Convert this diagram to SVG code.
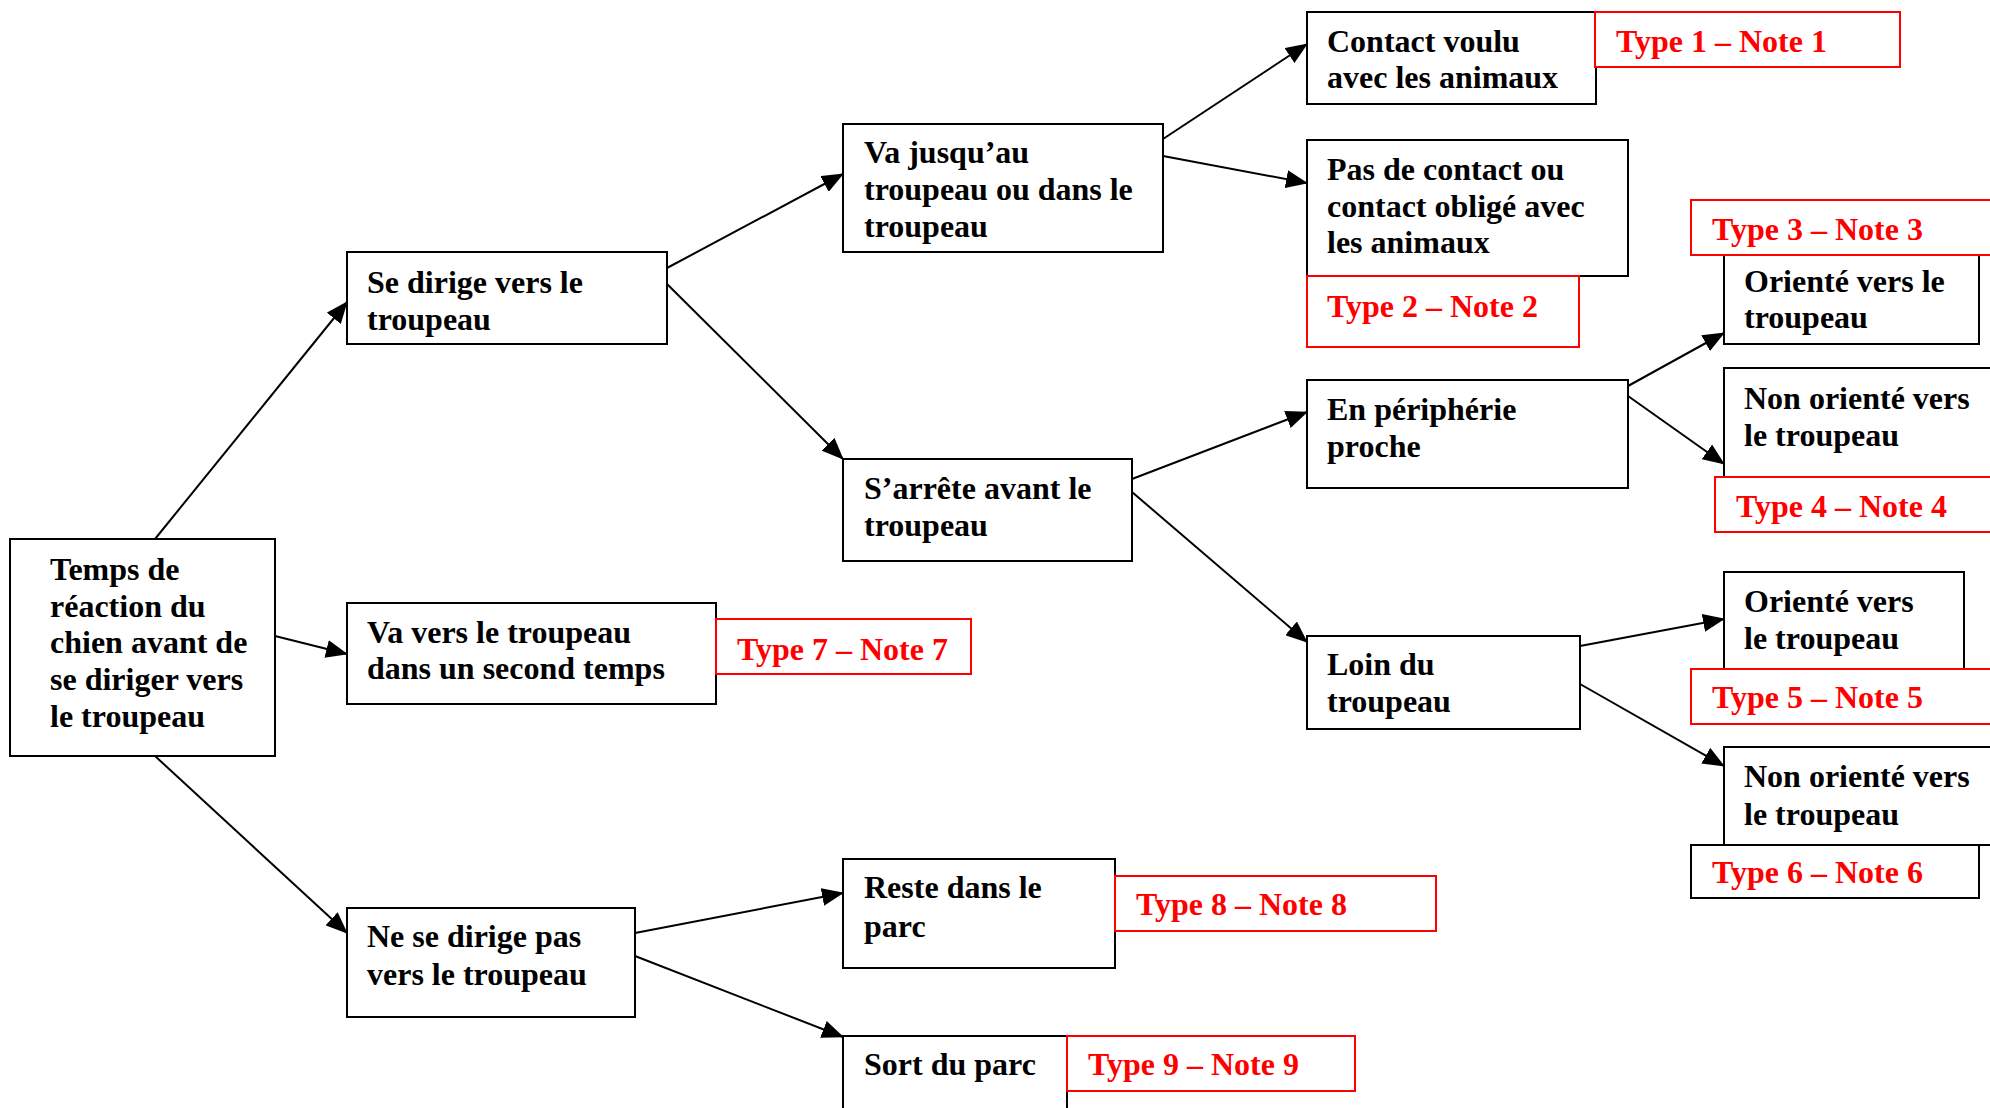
<svg xmlns="http://www.w3.org/2000/svg" width="1990" height="1108" viewBox="0 0 1990 1108">
<defs>
<style>
.box{fill:#fff;stroke:#000;stroke-width:2}
.tag{fill:#fff;stroke:#ff0000;stroke-width:2}
.tagb{fill:#fff;stroke:#000;stroke-width:2}
.t{font-family:"Liberation Serif","Times New Roman",serif;font-weight:bold;font-size:32px;fill:#000}
.r{font-family:"Liberation Serif","Times New Roman",serif;font-weight:bold;font-size:32px;fill:#ff0000}
.c{stroke:#000;stroke-width:2;fill:none;marker-end:url(#arr)}
</style>
<marker id="arr" markerWidth="22" markerHeight="18" refX="21" refY="9" orient="auto" markerUnits="userSpaceOnUse">
<path d="M0,0 L22,9 L0,18 z" fill="#000"/>
</marker>
</defs>
<rect width="1990" height="1108" fill="#fff"/>
<g id="connectors">
<line class="c" x1="155" y1="539" x2="347" y2="302"/>
<line class="c" x1="275" y1="636" x2="347" y2="654"/>
<line class="c" x1="155" y1="756" x2="347" y2="933"/>
<line class="c" x1="667" y1="268" x2="843" y2="174"/>
<line class="c" x1="667" y1="284" x2="843" y2="459"/>
<line class="c" x1="1163" y1="139" x2="1307" y2="44"/>
<line class="c" x1="1163" y1="156" x2="1307" y2="183"/>
<line class="c" x1="1132" y1="479" x2="1307" y2="412"/>
<line class="c" x1="1132" y1="492" x2="1307" y2="642"/>
<line class="c" x1="1628" y1="386" x2="1724" y2="333"/>
<line class="c" x1="1628" y1="396" x2="1724" y2="464"/>
<line class="c" x1="1580" y1="646" x2="1724" y2="619"/>
<line class="c" x1="1580" y1="684" x2="1724" y2="766"/>
<line class="c" x1="635" y1="933" x2="843" y2="893"/>
<line class="c" x1="635" y1="956" x2="843" y2="1037"/>
</g>
<g id="n0"><rect class="box" x="10" y="539" width="265" height="217"/>
<text class="t" x="50"><tspan x="50" y="580">Temps de</tspan><tspan x="50" y="617">réaction du</tspan><tspan x="50" y="653">chien avant de</tspan><tspan x="50" y="690">se diriger vers</tspan><tspan x="50" y="727">le troupeau</tspan></text></g>
<g id="n1"><rect class="box" x="347" y="252" width="320" height="92"/>
<text class="t"><tspan x="367" y="293">Se dirige vers le</tspan><tspan x="367" y="330">troupeau</tspan></text></g>
<g id="n2"><rect class="box" x="347" y="603" width="369" height="101"/>
<text class="t"><tspan x="367" y="643">Va vers le troupeau</tspan><tspan x="367" y="679">dans un second temps</tspan></text></g>
<g id="n3"><rect class="box" x="347" y="908" width="288" height="109"/>
<text class="t"><tspan x="367" y="947">Ne se dirige pas</tspan><tspan x="367" y="985">vers le troupeau</tspan></text></g>
<g id="n4"><rect class="box" x="843" y="124" width="320" height="128"/>
<text class="t"><tspan x="864" y="163">Va jusqu’au</tspan><tspan x="864" y="200">troupeau ou dans le</tspan><tspan x="864" y="237">troupeau</tspan></text></g>
<g id="n5"><rect class="box" x="843" y="459" width="289" height="102"/>
<text class="t"><tspan x="864" y="499">S’arrête avant le</tspan><tspan x="864" y="536">troupeau</tspan></text></g>
<g id="n6"><rect class="box" x="843" y="859" width="272" height="109"/>
<text class="t"><tspan x="864" y="898">Reste dans le</tspan><tspan x="864" y="937">parc</tspan></text></g>
<g id="n7"><rect class="box" x="843" y="1036" width="224" height="90"/>
<text class="t" x="864" y="1075">Sort du parc</text></g>
<g id="n8"><rect class="box" x="1307" y="12" width="289" height="92"/>
<text class="t"><tspan x="1327" y="52">Contact voulu</tspan><tspan x="1327" y="88">avec les animaux</tspan></text></g>
<g id="n9"><rect class="box" x="1307" y="140" width="321" height="136"/>
<text class="t"><tspan x="1327" y="180">Pas de contact ou</tspan><tspan x="1327" y="217">contact obligé avec</tspan><tspan x="1327" y="253">les animaux</tspan></text></g>
<g id="n10"><rect class="box" x="1307" y="380" width="321" height="108"/>
<text class="t"><tspan x="1327" y="420">En périphérie</tspan><tspan x="1327" y="457">proche</tspan></text></g>
<g id="n11"><rect class="box" x="1307" y="636" width="273" height="93"/>
<text class="t"><tspan x="1327" y="675">Loin du</tspan><tspan x="1327" y="712">troupeau</tspan></text></g>
<g id="n12"><rect class="box" x="1724" y="255" width="255" height="89"/>
<text class="t"><tspan x="1744" y="292">Orienté vers le</tspan><tspan x="1744" y="328">troupeau</tspan></text></g>
<g id="n13"><rect class="box" x="1724" y="368" width="290" height="109"/>
<text class="t"><tspan x="1744" y="409">Non orienté vers</tspan><tspan x="1744" y="446">le troupeau</tspan></text></g>
<g id="n14"><rect class="box" x="1724" y="572" width="240" height="97"/>
<text class="t"><tspan x="1744" y="612">Orienté vers</tspan><tspan x="1744" y="649">le troupeau</tspan></text></g>
<g id="n15"><rect class="box" x="1724" y="747" width="290" height="98"/>
<text class="t"><tspan x="1744" y="787">Non orienté vers</tspan><tspan x="1744" y="825">le troupeau</tspan></text></g>
<g id="type1"><rect class="tag" x="1595" y="12" width="305" height="55"/><text class="r" x="1616" y="52">Type 1 – Note 1</text></g>
<g id="type2"><rect class="tag" x="1307" y="276" width="272" height="71"/><text class="r" x="1327" y="317">Type 2 – Note 2</text></g>
<g id="type3"><rect class="tag" x="1691" y="200" width="320" height="55"/><text class="r" x="1712" y="240">Type 3 – Note 3</text></g>
<g id="type4"><rect class="tag" x="1715" y="477" width="300" height="55"/><text class="r" x="1736" y="517">Type 4 – Note 4</text></g>
<g id="type5"><rect class="tag" x="1691" y="669" width="320" height="55"/><text class="r" x="1712" y="708">Type 5 – Note 5</text></g>
<g id="type6"><rect class="tagb" x="1691" y="845" width="288" height="53"/><text class="r" x="1712" y="883">Type 6 – Note 6</text></g>
<g id="type7"><rect class="tag" x="716" y="619" width="255" height="55"/><text class="r" x="737" y="660">Type 7 – Note 7</text></g>
<g id="type8"><rect class="tag" x="1115" y="876" width="321" height="55"/><text class="r" x="1136" y="915">Type 8 – Note 8</text></g>
<g id="type9"><rect class="tag" x="1067" y="1036" width="288" height="55"/><text class="r" x="1088" y="1075">Type 9 – Note 9</text></g>
</svg>
